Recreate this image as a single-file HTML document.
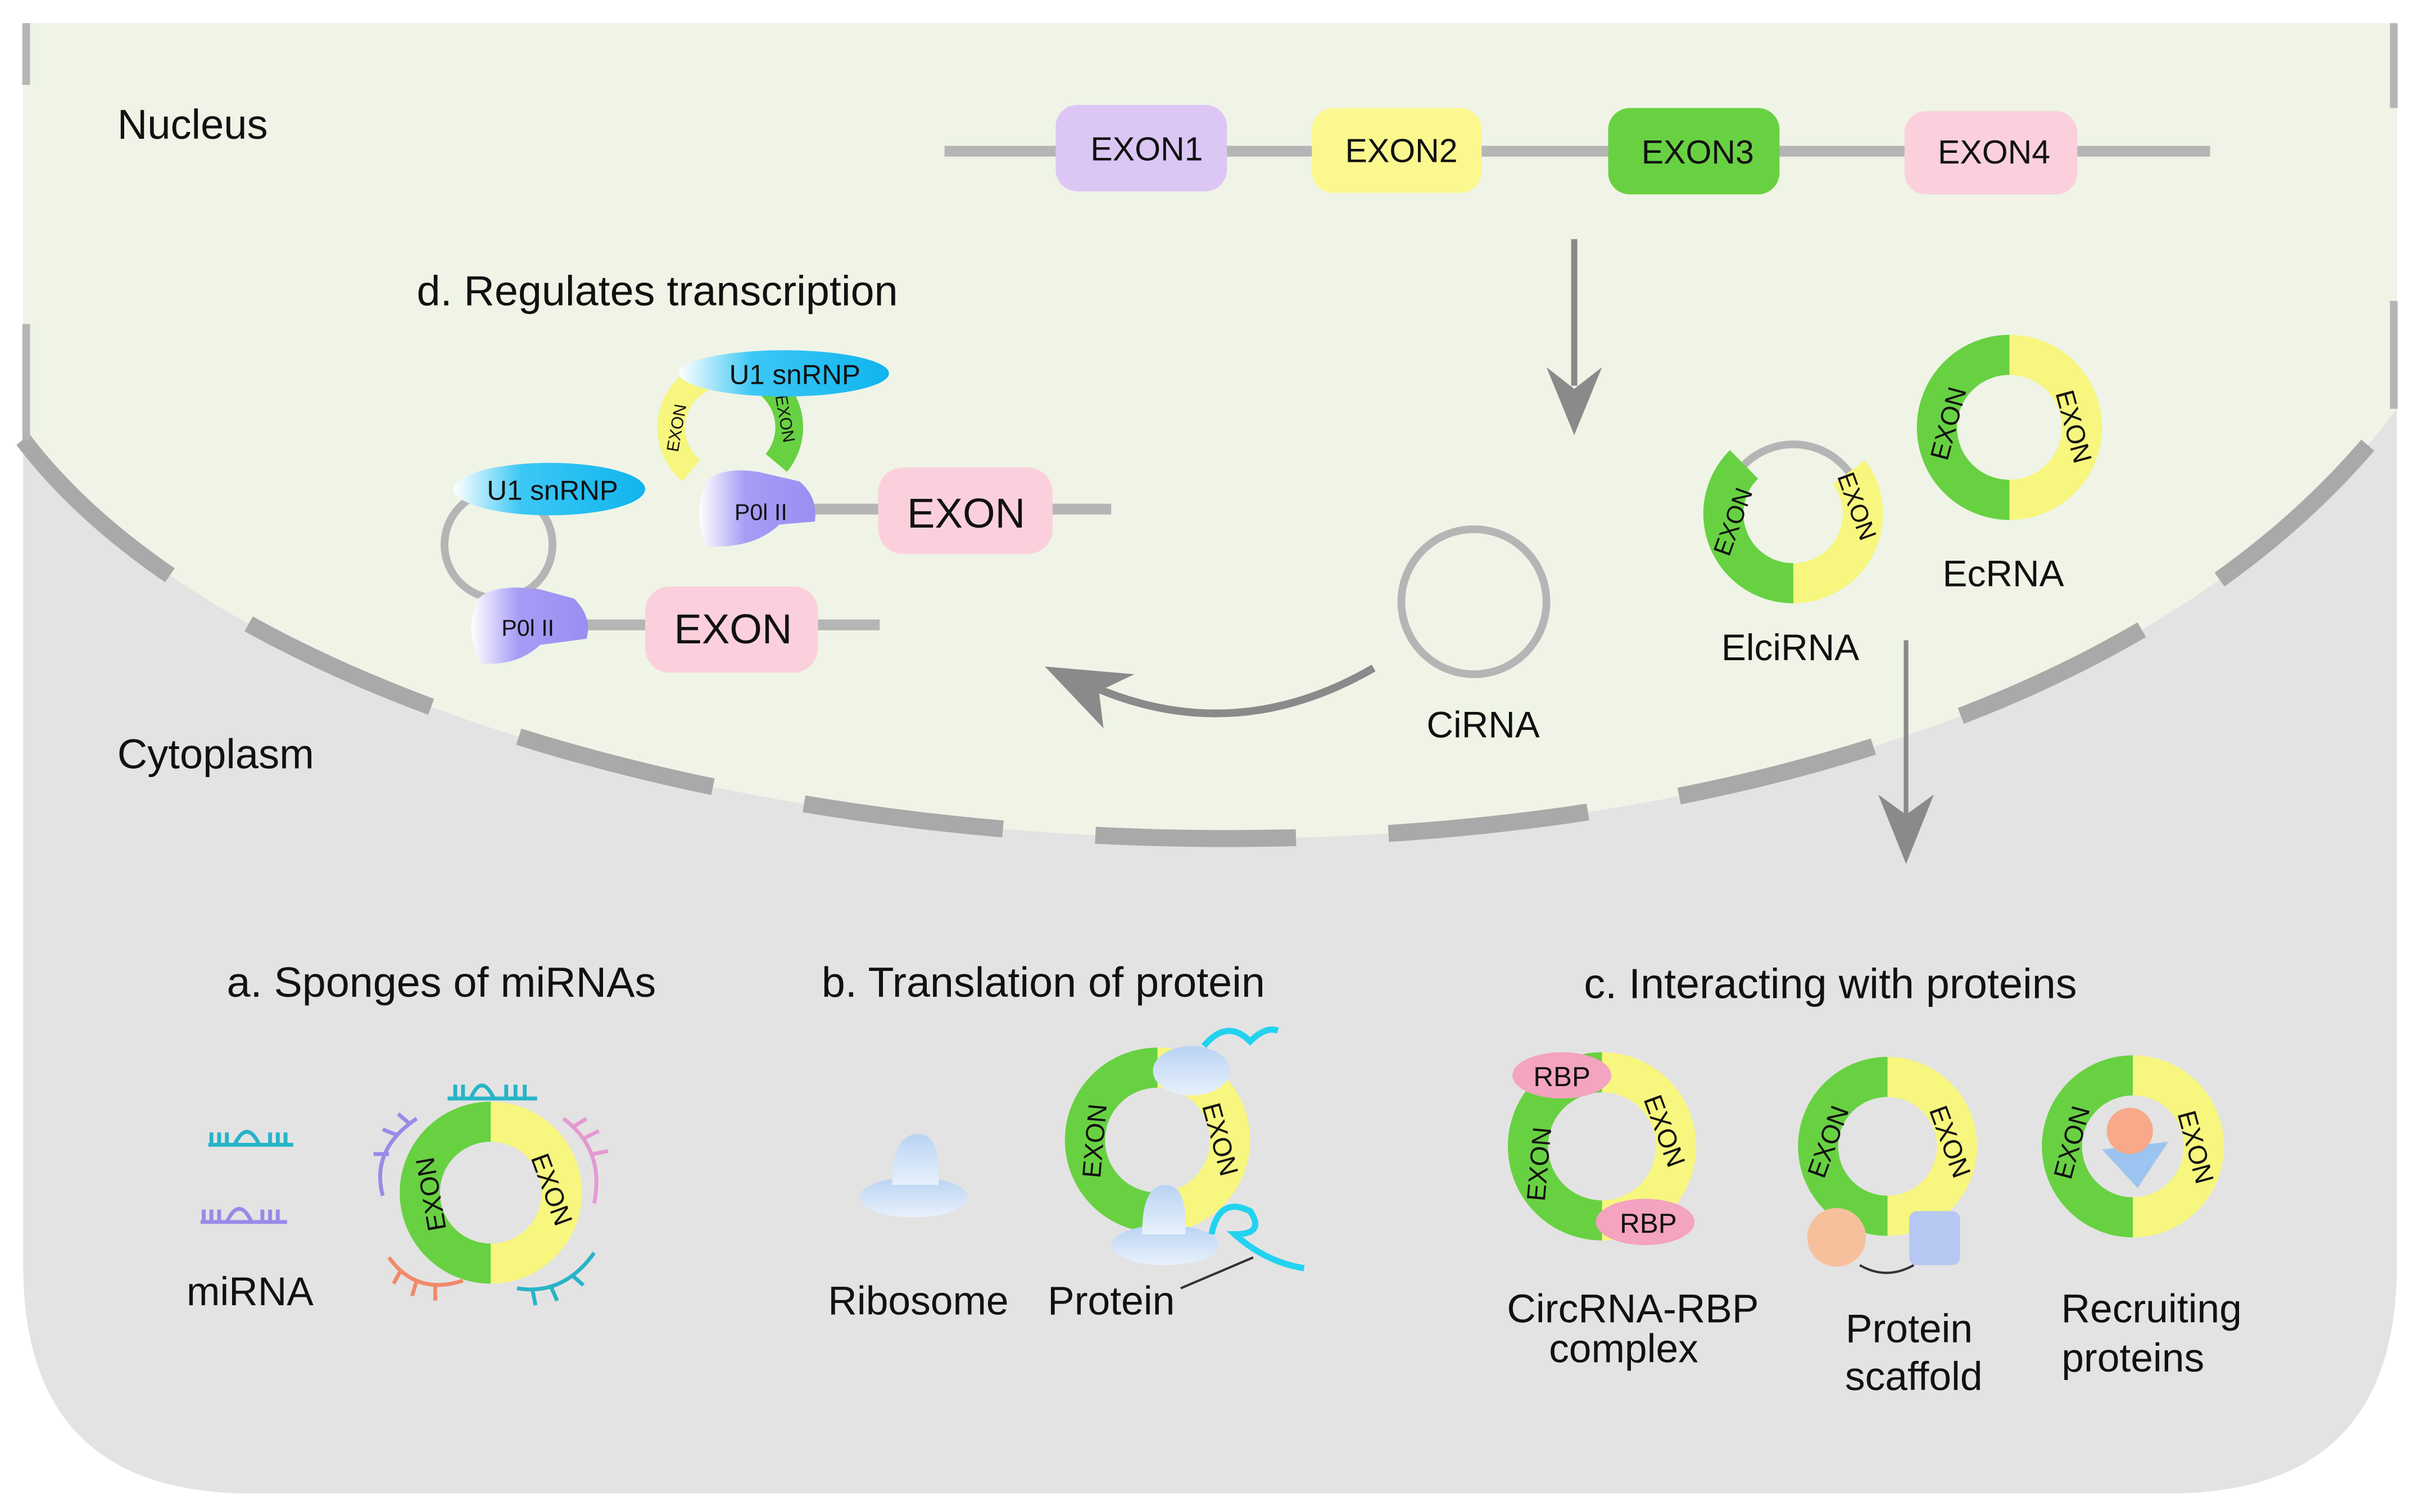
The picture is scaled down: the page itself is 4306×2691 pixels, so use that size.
<!DOCTYPE html>
<html><head><meta charset="utf-8"><style>
html,body{margin:0;padding:0;background:#fff}
svg{display:block}
text{font-family:"Liberation Sans",sans-serif;fill:#111}
</style></head><body>
<svg width="4306" height="2691" viewBox="0 0 1568 980" preserveAspectRatio="none" xmlns="http://www.w3.org/2000/svg">
<defs>
<linearGradient id="blue" x1="0" x2="1"><stop offset="0" stop-color="#fff"/><stop offset=".35" stop-color="#3cc8f5"/><stop offset="1" stop-color="#10b4ee"/></linearGradient>
<linearGradient id="pol" x1="0" x2="1"><stop offset="0" stop-color="#fff"/><stop offset=".4" stop-color="#a79cf5"/><stop offset="1" stop-color="#9b8ef2"/></linearGradient>
<linearGradient id="rib" x1="0" x2="0" y1="0" y2="1"><stop offset="0" stop-color="#b9d3f3"/><stop offset="1" stop-color="#e8f1fc"/></linearGradient>
</defs>
<path d="M15,15 H1553 V820 Q1553,968 1405,968 H163 Q15,968 15,820 Z" fill="#e3e3e3"/>
<path d="M15,15 H1553 V265 C1250,670 250,595 15,285 Z" fill="#eff4e7"/>
<path d="M15,285 C250,595 1250,670 1553,265" fill="none" stroke="#a9a9a9" stroke-width="11" stroke-dasharray="130,60"/>
<line x1="17" y1="15" x2="17" y2="55" stroke="#b5b5b5" stroke-width="5"/>
<line x1="17" y1="210" x2="17" y2="285" stroke="#b5b5b5" stroke-width="5"/>
<line x1="1551" y1="15" x2="1551" y2="70" stroke="#b5b5b5" stroke-width="5"/>
<line x1="1551" y1="195" x2="1551" y2="265" stroke="#b5b5b5" stroke-width="5"/>

<text x="76" y="90" font-size="27">Nucleus</text>
<text x="76" y="498" font-size="27">Cytoplasm</text>
<text x="270" y="198" font-size="27.5">d. Regulates transcription</text>

<line x1="612" y1="98" x2="1432" y2="98" stroke="#b5b5b5" stroke-width="7"/>
<rect x="684" y="68" width="111" height="56" rx="14" fill="#dcc6f4"/>
<rect x="850" y="70" width="110" height="55" rx="14" fill="#fbf88f"/>
<rect x="1042" y="70" width="111" height="56" rx="14" fill="#68d142"/>
<rect x="1234" y="72" width="112" height="54" rx="14" fill="#fbd0dc"/>
<g font-size="21.5" text-anchor="middle"><text x="743" y="104">EXON1</text><text x="908" y="105">EXON2</text><text x="1100" y="106">EXON3</text><text x="1292" y="106">EXON4</text></g>

<line x1="1020" y1="155" x2="1020" y2="250" stroke="#8a8a8a" stroke-width="4"/>
<path d="M1002,238 L1020,282 L1038,238 L1020,252 Z" fill="#8a8a8a"/>
<line x1="1235" y1="415" x2="1235" y2="530" stroke="#8a8a8a" stroke-width="3"/>
<path d="M1217,515 L1235,560 L1253,515 L1235,528 Z" fill="#8a8a8a"/>
<path d="M890,433 Q800,485 708,445" fill="none" stroke="#8a8a8a" stroke-width="5"/>
<path d="M677,432 L735,437 L712,448 L715,472 Z" fill="#8a8a8a"/>

<circle cx="955" cy="390" r="47" fill="none" stroke="#b5b5b5" stroke-width="5"/>
<text x="961" y="478" font-size="24" text-anchor="middle">CiRNA</text>

<circle cx="1162" cy="333" r="45" fill="none" stroke="#b5b5b5" stroke-width="5"/>
<path d="M1130,301 A45,45 0 0 0 1162,378" fill="none" stroke="#68d142" stroke-width="26"/>
<path d="M1162,378 A45,45 0 0 0 1198,306" fill="none" stroke="#f7f67e" stroke-width="26"/>
<text x="1128" y="340" font-size="16" transform="rotate(-70 1128 340)" text-anchor="middle">EXON</text>
<text x="1198" y="330" font-size="16" transform="rotate(70 1198 330)" text-anchor="middle">EXON</text>
<text x="1160" y="428" font-size="24" text-anchor="middle">ElciRNA</text>

<path d="M1302,230 A47,47 0 0 0 1302,324" fill="none" stroke="#68d142" stroke-width="26"/>
<path d="M1302,230 A47,47 0 0 1 1302,324" fill="none" stroke="#f7f67e" stroke-width="26"/>
<text x="1268" y="276" font-size="17" transform="rotate(-75 1268 276)" text-anchor="middle">EXON</text>
<text x="1338" y="278" font-size="17" transform="rotate(75 1338 278)" text-anchor="middle">EXON</text>
<text x="1298" y="380" font-size="24" text-anchor="middle">EcRNA</text>

<circle cx="323" cy="353" r="35" fill="none" stroke="#b5b5b5" stroke-width="5"/>
<line x1="360" y1="405" x2="570" y2="405" stroke="#b5b5b5" stroke-width="7"/>
<rect x="418" y="380" width="112" height="56" rx="16" fill="#fbd0dc"/>
<text x="475" y="417" font-size="27" text-anchor="middle">EXON</text>
<path d="M310,388 Q320,378 350,382 L372,388 Q384,400 380,414 L350,418 Q335,432 312,430 Q300,410 310,388 Z" fill="url(#pol)"/>
<text x="342" y="412" font-size="15" text-anchor="middle">P0l II</text>
<ellipse cx="356" cy="317" rx="62" ry="17" fill="url(#blue)"/>
<text x="358" y="324" font-size="18" text-anchor="middle">U1 snRNP</text>

<path d="M455,245 A36,36 0 0 0 448,305" fill="none" stroke="#f7f67e" stroke-width="18"/>
<path d="M492,245 A36,36 0 0 1 503,300" fill="none" stroke="#68d142" stroke-width="18"/>
<text x="442" y="278" font-size="11" transform="rotate(-80 442 278)" text-anchor="middle">EXON</text>
<text x="505" y="272" font-size="11" transform="rotate(80 505 272)" text-anchor="middle">EXON</text>
<line x1="520" y1="330" x2="720" y2="330" stroke="#b5b5b5" stroke-width="7"/>
<rect x="569" y="303" width="113" height="56" rx="16" fill="#fbd0dc"/>
<text x="626" y="342" font-size="27" text-anchor="middle">EXON</text>
<path d="M458,312 Q468,302 492,306 L518,312 Q530,322 528,338 L505,340 Q488,356 458,354 Q448,333 458,312 Z" fill="url(#pol)"/>
<text x="493" y="337" font-size="15" text-anchor="middle">P0l II</text>
<ellipse cx="508" cy="242" rx="68" ry="15" fill="url(#blue)"/>
<text x="515" y="249" font-size="18" text-anchor="middle">U1 snRNP</text>

<g font-size="27.5" text-anchor="middle">
<text x="286" y="646">a. Sponges of miRNAs</text>
<text x="676" y="646">b. Translation of protein</text>
<text x="1186" y="647">c. Interacting with proteins</text>
</g>

<g fill="none" stroke="#27b4c7" stroke-width="2.5"><path d="M135,742 H190 M137,742 V734 M142,742 V734 M147,742 V734 M152,742 Q160,725 168,742 M175,742 V734 M180,742 V734 M185,742 V734"/></g>
<g fill="none" stroke="#9b89e8" stroke-width="2.5"><path d="M130,792 H186 M132,792 V784 M137,792 V784 M142,792 V784 M147,792 Q155,775 163,792 M170,792 V784 M175,792 V784 M180,792 V784"/></g>
<text x="162" y="846" font-size="26" text-anchor="middle">miRNA</text>
<path d="M318,727 A46,46 0 0 0 318,819" fill="none" stroke="#68d142" stroke-width="26"/>
<path d="M318,727 A46,46 0 0 1 318,819" fill="none" stroke="#f7f67e" stroke-width="26"/>
<text x="285" y="773" font-size="17" transform="rotate(-100 285 773)" text-anchor="middle">EXON</text>
<text x="352" y="773" font-size="17" transform="rotate(70 352 773)" text-anchor="middle">EXON</text>
<g fill="none" stroke-width="2.5">
<path stroke="#27b4c7" d="M290,712 H348 M295,712 V703 M300,712 V703 M305,712 Q312,695 320,712 M328,712 V703 M334,712 V703 M340,712 V703"/>
<path stroke="#e49ad0" d="M365,725 Q392,745 385,780 M372,730 L380,725 M378,738 L388,733 M384,748 L394,746"/>
<path stroke="#9b89e8" d="M270,725 Q240,745 248,775 M265,728 L258,722 M258,736 L248,732 M252,748 L242,748"/>
<path stroke="#f08a6a" d="M252,815 Q270,840 300,830 M260,823 L255,832 M270,830 L267,840 M282,834 L282,843"/>
<path stroke="#27b4c7" d="M335,835 Q365,840 385,812 M345,836 L347,846 M357,834 L361,843 M370,826 L378,833"/>
</g>

<ellipse cx="592" cy="776" rx="35" ry="13" fill="url(#rib)"/>
<path d="M578,768 Q578,735 595,735 Q610,735 608,768 Z" fill="url(#rib)"/>
<text x="595" y="852" font-size="26" text-anchor="middle">Ribosome</text>
<text x="720" y="852" font-size="26" text-anchor="middle">Protein</text>
<path d="M750,692 A47,47 0 0 0 750,786" fill="none" stroke="#68d142" stroke-width="26"/>
<path d="M750,692 A47,47 0 0 1 750,786" fill="none" stroke="#f7f67e" stroke-width="26"/>
<text x="715" y="740" font-size="17" transform="rotate(-85 715 740)" text-anchor="middle">EXON</text>
<text x="785" y="740" font-size="17" transform="rotate(75 785 740)" text-anchor="middle">EXON</text>
<ellipse cx="772" cy="694" rx="25" ry="16" fill="url(#rib)"/>
<ellipse cx="755" cy="807" rx="35" ry="13" fill="url(#rib)"/>
<path d="M740,800 Q740,768 755,768 Q770,768 768,800 Z" fill="url(#rib)"/>
<path d="M780,678 Q795,660 810,675 Q820,665 828,668" fill="none" stroke="#22d3ef" stroke-width="4"/>
<path d="M785,800 Q790,775 810,785 Q820,800 800,800 Q820,818 845,822" fill="none" stroke="#22d3ef" stroke-width="4"/>
<line x1="765" y1="835" x2="812" y2="815" stroke="#333" stroke-width="1.5"/>

<path d="M1038,695 A48,48 0 0 0 1038,791" fill="none" stroke="#68d142" stroke-width="26"/>
<path d="M1038,695 A48,48 0 0 1 1038,791" fill="none" stroke="#f7f67e" stroke-width="26"/>
<text x="1003" y="755" font-size="17" transform="rotate(-85 1003 755)" text-anchor="middle">EXON</text>
<text x="1073" y="735" font-size="17" transform="rotate(70 1073 735)" text-anchor="middle">EXON</text>
<ellipse cx="1012" cy="697" rx="32" ry="15" fill="#f4a3c0"/>
<text x="1012" y="704" font-size="18" text-anchor="middle">RBP</text>
<ellipse cx="1066" cy="792" rx="32" ry="15" fill="#f4a3c0"/>
<text x="1068" y="799" font-size="18" text-anchor="middle">RBP</text>
<text x="1058" y="857" font-size="26" text-anchor="middle">CircRNA-RBP</text>
<text x="1052" y="883" font-size="26" text-anchor="middle">complex</text>

<path d="M1223,698 A45,45 0 0 0 1223,788" fill="none" stroke="#68d142" stroke-width="26"/>
<path d="M1223,698 A45,45 0 0 1 1223,788" fill="none" stroke="#f7f67e" stroke-width="26"/>
<text x="1190" y="742" font-size="17" transform="rotate(-70 1190 742)" text-anchor="middle">EXON</text>
<text x="1258" y="742" font-size="17" transform="rotate(70 1258 742)" text-anchor="middle">EXON</text>
<circle cx="1190" cy="802" r="19" fill="#f7c09c"/>
<rect x="1237" y="785" width="33" height="35" rx="5" fill="#b6c8f2"/>
<path d="M1205,820 Q1222,830 1240,820" fill="none" stroke="#333" stroke-width="1.5"/>
<text x="1237" y="870" font-size="26" text-anchor="middle">Protein</text>
<text x="1240" y="901" font-size="26" text-anchor="middle">scaffold</text>

<path d="M1382,697 A46,46 0 0 0 1382,789" fill="none" stroke="#68d142" stroke-width="26"/>
<path d="M1382,697 A46,46 0 0 1 1382,789" fill="none" stroke="#f7f67e" stroke-width="26"/>
<text x="1348" y="742" font-size="17" transform="rotate(-75 1348 742)" text-anchor="middle">EXON</text>
<text x="1417" y="745" font-size="17" transform="rotate(75 1417 745)" text-anchor="middle">EXON</text>
<path d="M1362,745 L1405,740 L1385,770 Z" fill="#9cc4f0"/>
<circle cx="1380" cy="733" r="15" fill="#f7a98a"/>
<text x="1394" y="857" font-size="26" text-anchor="middle">Recruiting</text>
<text x="1382" y="889" font-size="26" text-anchor="middle">proteins</text>
</svg>
</body></html>
